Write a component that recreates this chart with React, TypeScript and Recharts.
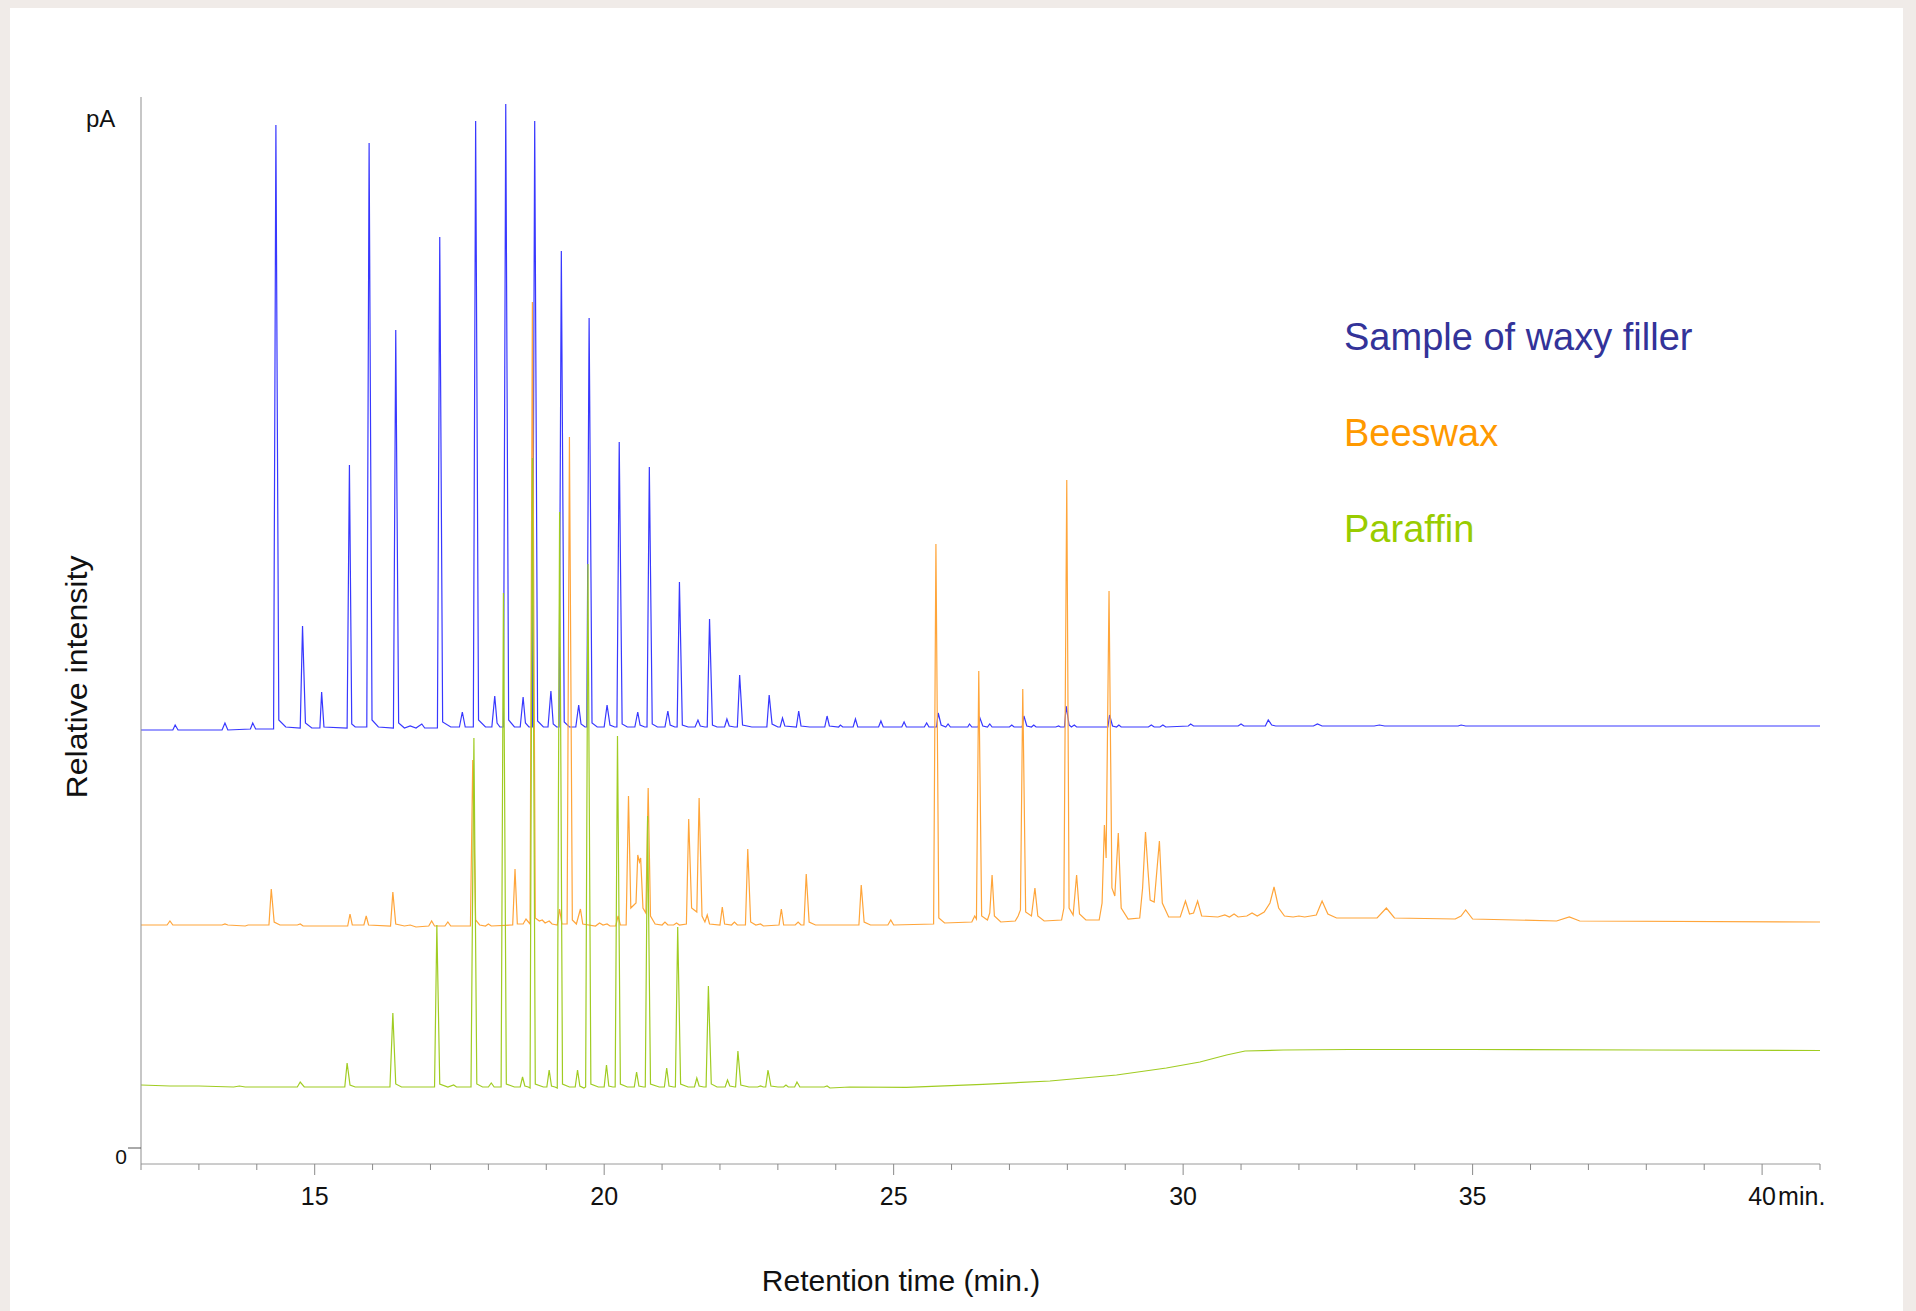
import React from 'react';
import { LineChart, Line, XAxis, YAxis } from 'recharts';

// retention time (min) / detector signal (arbitrary pA units, 0 = zero line)
const waxyFillerTrace: [number, number][] = [
  [12.0, 418], [12.55, 418], [12.59, 423], [12.64, 418],
  [13.4, 418], [13.45, 425], [13.5, 418],
  [13.89, 419], [13.93, 425], [13.98, 419],
  [14.29, 419], [14.33, 1023], [14.38, 428], [14.5, 421],
  [14.75, 420], [14.79, 522], [14.84, 425], [14.95, 420],
  [15.09, 420], [15.12, 456], [15.16, 421],
  [15.56, 420], [15.6, 683], [15.64, 424], [15.7, 421],
  [15.9, 421], [15.94, 1005], [15.99, 428], [16.1, 421],
  [16.36, 420], [16.4, 818], [16.45, 425], [16.55, 420], [16.65, 422], [16.75, 420], [16.85, 424], [16.9, 420],
  [17.12, 420], [17.16, 911], [17.21, 426], [17.35, 421], [17.5, 421], [17.55, 436], [17.6, 421],
  [17.74, 421], [17.78, 1027], [17.83, 428], [17.95, 421], [18.06, 421], [18.11, 452], [18.15, 425], [18.2, 421],
  [18.26, 421], [18.3, 1044], [18.35, 428], [18.45, 421], [18.55, 421], [18.6, 451], [18.64, 425], [18.7, 421],
  [18.76, 421], [18.8, 1027], [18.85, 427], [18.95, 421], [19.03, 421], [19.08, 457], [19.12, 424], [19.18, 421],
  [19.22, 421], [19.26, 897], [19.31, 426], [19.4, 421], [19.51, 421], [19.56, 443], [19.6, 424], [19.67, 421],
  [19.7, 421], [19.74, 830], [19.79, 425], [19.88, 421], [20.0, 421], [20.05, 443], [20.1, 423], [20.18, 421],
  [20.22, 421], [20.26, 706], [20.31, 424], [20.4, 421], [20.53, 421], [20.58, 436], [20.62, 423], [20.7, 421],
  [20.74, 421], [20.78, 681], [20.83, 424], [20.92, 421], [21.05, 421], [21.1, 437], [21.14, 423], [21.22, 421],
  [21.26, 421], [21.3, 566], [21.35, 423], [21.45, 421], [21.57, 421], [21.62, 428], [21.66, 422], [21.74, 421],
  [21.78, 421], [21.82, 529], [21.87, 423], [21.95, 421], [22.08, 421], [22.12, 429], [22.16, 422], [22.25, 421],
  [22.3, 421], [22.34, 473], [22.39, 423], [22.55, 421],
  [22.81, 421], [22.85, 453], [22.9, 424], [23.0, 421], [23.04, 421], [23.08, 430], [23.12, 422],
  [23.32, 421], [23.36, 437], [23.4, 422], [23.55, 421],
  [23.81, 421], [23.85, 432], [23.89, 422], [24.05, 421], [24.08, 423], [24.12, 421],
  [24.3, 421], [24.34, 429], [24.38, 421],
  [24.74, 421], [24.78, 427], [24.82, 421],
  [25.14, 421], [25.18, 426], [25.22, 421],
  [25.53, 421], [25.57, 425], [25.61, 421], [25.74, 421], [25.77, 435], [25.82, 423], [25.9, 421], [25.94, 424], [25.98, 421],
  [26.28, 421], [26.31, 424], [26.35, 421], [26.46, 421], [26.49, 430], [26.54, 422], [26.62, 421], [26.66, 424], [26.7, 421],
  [27.0, 421], [27.04, 423], [27.08, 421], [27.22, 421], [27.25, 432], [27.3, 422], [27.38, 421], [27.42, 423], [27.46, 421],
  [27.8, 421], [27.85, 422], [27.88, 421], [27.95, 421], [27.98, 442], [28.03, 423], [28.07, 421], [28.12, 423], [28.16, 421],
  [28.7, 421], [28.73, 433], [28.78, 422], [28.85, 421], [28.89, 423], [28.93, 421],
  [29.4, 421], [29.45, 423], [29.5, 421], [29.6, 421], [29.65, 423], [29.7, 421],
  [30.09, 422], [30.13, 424], [30.18, 422],
  [30.95, 422], [31.0, 424], [31.05, 422],
  [31.42, 422], [31.47, 428], [31.53, 423], [31.6, 422],
  [32.25, 422], [32.32, 424], [32.4, 422],
  [33.3, 422], [33.39, 423], [33.48, 422],
  [34.75, 422], [34.8, 423], [34.88, 422],
  [41.0, 422],
];

const beeswaxTrace: [number, number][] = [
  [12.0, 223], [12.45, 223], [12.5, 227], [12.55, 223],
  [13.4, 223], [13.45, 224], [13.5, 223], [13.8, 222], [13.85, 223],
  [14.21, 223], [14.25, 259], [14.3, 226], [14.4, 223],
  [14.7, 223], [14.75, 224], [14.8, 222],
  [15.57, 222], [15.61, 234], [15.65, 223], [15.85, 223], [15.89, 232], [15.93, 223],
  [16.31, 222], [16.35, 256], [16.4, 224], [16.55, 222], [16.65, 223], [16.75, 221],
  [16.97, 222], [17.02, 227], [17.07, 222], [17.25, 222], [17.3, 226], [17.35, 222],
  [17.69, 222], [17.73, 388], [17.78, 228], [17.85, 223], [17.95, 222], [18.0, 224], [18.05, 222],
  [18.42, 223], [18.46, 279], [18.5, 224], [18.6, 224], [18.65, 229],
  [18.72, 224], [18.76, 846], [18.81, 230], [18.88, 227], [18.93, 228], [18.98, 225], [19.05, 227], [19.1, 224],
  [19.19, 223], [19.23, 239], [19.27, 224], [19.36, 224], [19.4, 711], [19.45, 228], [19.52, 224], [19.59, 239], [19.63, 224],
  [19.85, 222], [19.92, 225], [19.98, 223], [20.05, 224], [20.1, 222],
  [20.2, 222], [20.24, 232], [20.28, 223],
  [20.38, 223], [20.42, 352], [20.46, 240], [20.55, 245], [20.58, 293], [20.61, 286], [20.63, 290], [20.67, 240], [20.72, 235], [20.76, 360], [20.8, 232], [20.88, 224],
  [21.0, 223], [21.05, 226], [21.1, 223], [21.2, 223], [21.25, 225], [21.3, 223],
  [21.42, 224], [21.46, 329], [21.51, 240], [21.6, 236], [21.64, 350], [21.69, 232], [21.74, 226], [21.78, 233], [21.82, 224],
  [22.0, 223], [22.04, 241], [22.08, 224], [22.2, 223], [22.25, 226], [22.3, 223],
  [22.44, 223], [22.48, 299], [22.53, 226], [22.62, 223], [22.7, 224], [22.75, 222],
  [23.02, 223], [23.06, 239], [23.1, 223], [23.3, 223], [23.35, 226], [23.4, 223],
  [23.45, 223], [23.49, 274], [23.54, 226], [23.65, 223],
  [24.4, 223], [24.44, 263], [24.49, 226], [24.6, 223],
  [24.9, 223], [24.95, 228], [25.0, 223],
  [25.69, 224], [25.73, 604], [25.78, 230], [25.88, 225],
  [26.35, 226], [26.4, 232], [26.43, 229], [26.47, 477], [26.52, 232], [26.62, 228], [26.66, 235], [26.7, 273], [26.74, 232], [26.85, 226],
  [27.1, 227], [27.15, 232], [27.19, 238], [27.23, 459], [27.28, 236], [27.38, 232], [27.44, 260], [27.49, 232], [27.6, 227],
  [27.9, 228], [27.94, 240], [27.99, 668], [28.03, 240], [28.1, 233], [28.16, 273], [28.21, 234], [28.32, 228],
  [28.55, 228], [28.6, 245], [28.64, 323], [28.67, 290], [28.72, 557], [28.77, 260], [28.82, 252], [28.88, 315], [28.93, 240], [29.05, 229],
  [29.25, 230], [29.3, 260], [29.35, 316], [29.39, 280], [29.43, 248], [29.5, 246], [29.59, 307], [29.64, 245], [29.75, 231],
  [29.95, 231], [30.04, 247], [30.11, 234], [30.18, 235], [30.25, 247], [30.32, 232],
  [30.6, 231], [30.72, 233], [30.8, 231], [30.88, 234], [30.95, 231], [31.1, 232], [31.19, 235], [31.28, 232], [31.4, 236],
  [31.5, 245], [31.57, 261], [31.65, 240], [31.75, 232], [31.9, 231], [32.0, 232], [32.1, 231],
  [32.3, 233], [32.4, 247], [32.5, 234], [32.65, 230],
  [33.35, 230], [33.51, 240], [33.65, 230],
  [34.7, 229], [34.8, 232], [34.88, 238], [35.0, 229],
  [36.45, 227], [36.67, 231], [36.85, 227],
  [41.0, 226],
];

const paraffinTrace: [number, number][] = [
  [12.0, 63], [12.5, 62], [13.0, 62], [13.6, 61], [13.7, 62], [13.8, 61],
  [14.7, 61], [14.75, 66], [14.82, 61],
  [15.52, 61], [15.56, 85], [15.61, 63], [15.7, 61],
  [16.3, 61], [16.35, 135], [16.4, 64], [16.5, 61],
  [17.07, 61], [17.11, 223], [17.16, 64], [17.3, 61], [17.4, 63], [17.45, 61],
  [17.7, 61], [17.75, 410], [17.8, 64], [17.9, 61], [18.0, 61], [18.05, 65], [18.1, 61],
  [18.22, 61], [18.26, 555], [18.31, 64], [18.45, 61], [18.55, 61], [18.59, 71], [18.63, 62], [18.69, 61],
  [18.72, 60], [18.76, 690], [18.81, 64], [18.95, 61], [19.01, 61], [19.05, 78], [19.09, 62], [19.15, 61],
  [19.19, 60], [19.23, 636], [19.28, 64], [19.4, 61], [19.5, 61], [19.54, 78], [19.58, 62], [19.65, 60],
  [19.68, 61], [19.72, 584], [19.77, 64], [19.9, 61], [20.0, 61], [20.04, 83], [20.08, 62], [20.15, 61],
  [20.19, 61], [20.23, 412], [20.28, 64], [20.4, 61], [20.52, 61], [20.56, 76], [20.6, 62], [20.68, 61],
  [20.71, 61], [20.75, 332], [20.8, 64], [20.95, 61], [21.04, 61], [21.08, 80], [21.12, 62], [21.2, 61],
  [21.23, 61], [21.27, 221], [21.32, 64], [21.45, 61], [21.56, 61], [21.6, 70], [21.64, 62], [21.72, 61],
  [21.76, 61], [21.8, 162], [21.85, 64], [21.95, 61], [22.09, 61], [22.13, 68], [22.17, 62], [22.26, 61],
  [22.27, 61], [22.31, 97], [22.36, 63], [22.5, 61], [22.65, 61], [22.7, 62], [22.75, 61],
  [22.79, 61], [22.83, 78], [22.88, 62], [23.0, 61], [23.1, 61], [23.14, 63], [23.18, 61], [23.29, 61], [23.33, 66], [23.38, 61],
  [23.8, 61], [23.85, 62], [23.9, 60],
  [24.24, 61], [25.22, 60.7], [26.54, 63.7], [27.7, 67], [28.85, 73], [29.71, 80], [30.29, 86], [30.75, 93],
  [31.07, 97], [31.73, 98], [32.88, 98.5], [35.0, 98.5], [38.0, 98], [41.0, 97.5],
];

const xTicks = [12, 13, 14, 15, 16, 17, 18, 19, 20, 21, 22, 23, 24, 25, 26, 27, 28, 29, 30, 31, 32, 33, 34, 35, 36, 37, 38, 39, 40, 41];
const xLabels = [15, 20, 25, 30, 35, 40];
const seriesNames = ['Sample of waxy filler', 'Beeswax', 'Paraffin'];
const seriesColors = ['#333399', '#ff9900', '#99cc00'];
const traceColors = ['#3838ff', '#ffa53a', '#a0cc22'];

const toPoints = (trace: [number, number][]) => trace.map(([t, v]) => ({ t, v }));

const FONT = '"Liberation Sans", Arial, sans-serif';

const XTick = (props: any) => {
  const { x, y, payload } = props;
  const v = payload.value;
  const major = xLabels.includes(v);
  return (
    <g>
      <line x1={x} y1={y} x2={x} y2={y + (major ? 11 : 6)} stroke="#8a8a8a" strokeWidth={1} />
      {major && (
        <text x={x} y={y + 41} textAnchor="middle" fontSize={25} fontFamily={FONT} fill="#111">
          {v}
        </text>
      )}
      {v === 40 && (
        <text x={x + 16} y={y + 41} textAnchor="start" fontSize={25} fontFamily={FONT} fill="#111">
          min.
        </text>
      )}
    </g>
  );
};

const YTick = (props: any) => {
  const { x, y, payload } = props;
  return (
    <g>
      <line x1={x} y1={y} x2={x + 13} y2={y} stroke="#555" strokeWidth={1} />
      <text x={x - 1} y={y + 16} textAnchor="end" fontSize={21} fontFamily={FONT} fill="#111">
        {payload.value}
      </text>
    </g>
  );
};

const App: React.FC = () => {
  const traces = [waxyFillerTrace, beeswaxTrace, paraffinTrace];
  return (
    <div style={{ position: 'absolute', left: 0, top: 0, width: 1916, height: 1311, background: '#f0ebe8', overflow: 'hidden' }}>
      <div style={{ position: 'absolute', left: 10, top: 8, width: 1893, height: 1303, background: '#ffffff' }} />
      <div style={{ position: 'absolute', left: 0, top: 0 }}>
        <LineChart width={1916} height={1311} margin={{ top: 97, right: 96, bottom: 0, left: 101 }}>
          <XAxis
            dataKey="t"
            type="number"
            domain={[12, 41]}
            ticks={xTicks}
            interval={0}
            allowDataOverflow
            height={147}
            tickSize={0}
            tickMargin={0}
            tick={<XTick />}
            axisLine={{ stroke: '#9a9a9a', strokeWidth: 1 }}
          />
          <YAxis
            type="number"
            domain={[-16, 1051]}
            ticks={[0]}
            allowDataOverflow
            width={40}
            tickSize={0}
            tickMargin={13}
            tick={<YTick />}
            axisLine={{ stroke: '#8f8f8f', strokeWidth: 1 }}
          />
          {traces.map((trace, i) => (
            <Line
              key={seriesNames[i]}
              data={toPoints(trace)}
              dataKey="v"
              name={seriesNames[i]}
              type="linear"
              stroke={traceColors[i]}
              strokeWidth={1.2}
              dot={false}
              activeDot={false}
              isAnimationActive={false}
            />
          ))}
        </LineChart>
      </div>
      <svg width={1916} height={1311} style={{ position: 'absolute', left: 0, top: 0, pointerEvents: 'none' }}>
        <text x={86} y={127} fontSize={24} fontFamily={FONT} fill="#111">pA</text>
        <text
          transform="translate(87, 677) rotate(-90)"
          textAnchor="middle"
          fontSize={29}
          fontFamily={FONT}
          fill="#111"
          textLength={243}
          lengthAdjust="spacingAndGlyphs"
        >
          Relative intensity
        </text>
        <text x={901} y={1291} textAnchor="middle" fontSize={30} fontFamily={FONT} fill="#111">
          Retention time (min.)
        </text>
        {seriesNames.map((name, i) => (
          <text key={name} x={1344} y={350 + i * 96} fontSize={38} fontFamily={FONT} fill={seriesColors[i]}>
            {name}
          </text>
        ))}
      </svg>
    </div>
  );
};

export default App;
